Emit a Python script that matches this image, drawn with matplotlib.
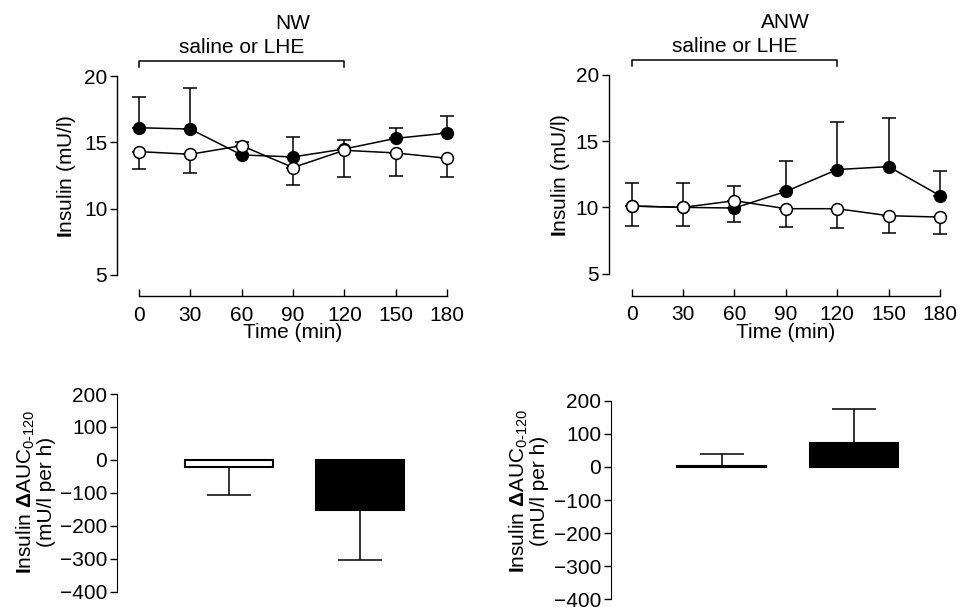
import matplotlib
matplotlib.use("Agg")
import matplotlib.pyplot as plt
import numpy as np

plt.rcParams['font.family'] = ['Liberation Sans', 'DejaVu Sans']
plt.rcParams['mathtext.fontset'] = 'custom'
plt.rcParams['mathtext.rm'] = 'Liberation Sans'
plt.rcParams['mathtext.it'] = 'Liberation Sans:italic'
plt.rcParams['mathtext.bf'] = 'Liberation Sans:bold'

# ---- data ----
time = [0, 30, 60, 90, 120, 150, 180]
time_ticks = [0, 30, 60, 90, 120, 150, 180]

nw_lhe = [16.1, 16.0, 14.05, 13.9, 14.5, 15.3, 15.7]
nw_lhe_err = [2.3, 3.1, 1.0, 1.5, 0.7, 0.8, 1.3]
nw_sal = [14.3, 14.1, 14.75, 13.1, 14.4, 14.2, 13.8]
nw_sal_err = [1.3, 1.4, 0.6, 1.35, 2.0, 1.7, 1.4]

anw_lhe = [10.1, 10.0, 9.95, 11.2, 12.85, 13.07, 10.88]
anw_lhe_err = [1.7, 1.8, 1.65, 2.3, 3.58, 3.69, 1.88]
anw_sal = [10.1, 10.0, 10.5, 9.9, 9.9, 9.37, 9.27]
anw_sal_err = [1.5, 1.4, 1.6, 1.4, 1.43, 1.27, 1.27]

insulin_ticks = [5, 10, 15, 20]

auc_groups = ["saline", "LHE"]
nw_auc = [-22, -151]
nw_auc_err = [85, 152]
anw_auc = [4, 71.5]
anw_auc_err = [34, 104]
auc_ticks = [200, 100, 0, -100, -200, -300, -400]

W, H = 958, 607
fig = plt.figure(figsize=(W / 100, H / 100), dpi=100)

FS = 15


def px_axes(left, right, top, bottom):
    return fig.add_axes([left / W, 1 - bottom / H, (right - left) / W, (bottom - top) / H])


def fig_text(xp, yp, s, **kw):
    fig.text(xp / W, 1 - yp / H, s, **kw)


def time_panel(spine_x, x0, x180, y20, y5, xspine_y, lhe, lhe_err, sal, sal_err, title,
               ylab_xy, xlab_xy):
    ppu_x = (x180 - x0) / 180.0
    ppu_y = (y5 - y20) / 15.0
    xl = -(x0 - spine_x) / ppu_x
    xr = 180 + 9 / ppu_x
    yt = 20 + 6 / ppu_y
    yb = 5 - (xspine_y - y5) / ppu_y
    ax = px_axes(spine_x, x0 + xr * ppu_x, y20 - 6, xspine_y)
    ax.set_xlim(xl, xr)
    ax.set_ylim(yb, yt)
    for s in ["top", "right"]:
        ax.spines[s].set_visible(False)
    ax.spines["left"].set_bounds(5, 20)
    ax.spines["bottom"].set_bounds(0, 180)
    ax.spines["left"].set_linewidth(1.0)
    ax.spines["bottom"].set_linewidth(1.0)
    ax.set_yticks(insulin_ticks)
    ax.set_xticks(time_ticks)
    ax.tick_params(axis="y", direction="out", length=5, width=1, labelsize=FS, pad=2)
    ax.tick_params(axis="x", direction="in", length=5, width=1, labelsize=FS, pad=7)
    # filled (LHE) with upward error
    ax.errorbar(time, lhe, yerr=[np.zeros(len(lhe)), lhe_err], fmt="o-", color="black",
                mfc="black", mec="black", ms=8.5, lw=1.1, elinewidth=1.1, capsize=5,
                capthick=1.1, zorder=3, clip_on=False)
    # open (saline) with downward error
    ax.errorbar(time, sal, yerr=[sal_err, np.zeros(len(sal))], fmt="o-", color="black",
                mfc="white", mec="black", ms=8.5, mew=1.1, lw=1.1, elinewidth=1.1, capsize=5,
                capthick=1.1, zorder=4, clip_on=False)
    fig_text(xlab_xy[0], xlab_xy[1], "Time (min)", ha="center", va="center", fontsize=FS)
    fig_text(ylab_xy[0], ylab_xy[1], r"$\mathbf{I}$nsulin (mU/l)", ha="center", va="center",
             rotation=90, fontsize=FS)
    # bracket
    by = 20 + 15 / ppu_y
    bt = 20 + 9 / ppu_y
    ax.plot([0, 0, 120, 120], [bt, by, by, bt], color="black", lw=1.1, clip_on=False)
    ax.text(60, by + 4 / ppu_y, "saline or LHE", ha="center", va="bottom", fontsize=FS)
    ax.text(90, by + 28 / ppu_y, title, ha="center", va="bottom", fontsize=FS)
    return ax


time_panel(117, 139, 447, 76, 275, 296, nw_lhe, nw_lhe_err, nw_sal, nw_sal_err, "NW",
           (67, 176), (293, 333))
time_panel(608.7, 631.7, 940, 74.7, 273.7, 295.7, anw_lhe, anw_lhe_err, anw_sal, anw_sal_err,
           "ANW", (561, 175), (786, 333))


def auc_panel(spine_x, c1, c2, y200, ym400, vals, errs, ylab_xy):
    ppu = c2 - c1
    xl = 1 - (c1 - spine_x) / ppu
    xr = 2.6
    ax = px_axes(spine_x, c1 + (xr - 1) * ppu, y200, ym400)
    ax.set_xlim(xl, xr)
    ax.set_ylim(-400, 200)
    for s in ["top", "right", "bottom"]:
        ax.spines[s].set_visible(False)
    ax.set_xticks([])
    ax.set_yticks(auc_ticks)
    ax.set_yticklabels([str(t).replace("-", "\u2212") for t in auc_ticks])
    ax.tick_params(axis="y", direction="out", length=5, width=1, labelsize=FS, pad=2)
    pos = [1, 2]
    ax.bar(pos, vals, width=0.67, color=["white", "black"], edgecolor="black",
           linewidth=1.5, zorder=2)
    for p, v, e in zip(pos, vals, errs):
        if v >= 0:
            ax.errorbar([p], [v], yerr=[[0], [e]], fmt="none", ecolor="black",
                        elinewidth=1.1, capsize=16, capthick=1.1, zorder=1)
        else:
            ax.errorbar([p], [v], yerr=[[e], [0]], fmt="none", ecolor="black",
                        elinewidth=1.1, capsize=16, capthick=1.1, zorder=1)
    fig_text(ylab_xy[0], ylab_xy[1],
             r"$\mathbf{I}$nsulin $\mathbf{\Delta}$AUC$_{0\text{-}120}$" + "\n(mU/l per h)",
             ha="center", va="center", rotation=90, fontsize=FS, linespacing=1.0)
    return ax


auc_panel(117, 228.7, 360, 394, 591.7, nw_auc, nw_auc_err, (35, 492))
auc_panel(611, 721.7, 854, 400.7, 599.3, anw_auc, anw_auc_err, (528, 491))

fig.savefig("out.png", dpi=100)
